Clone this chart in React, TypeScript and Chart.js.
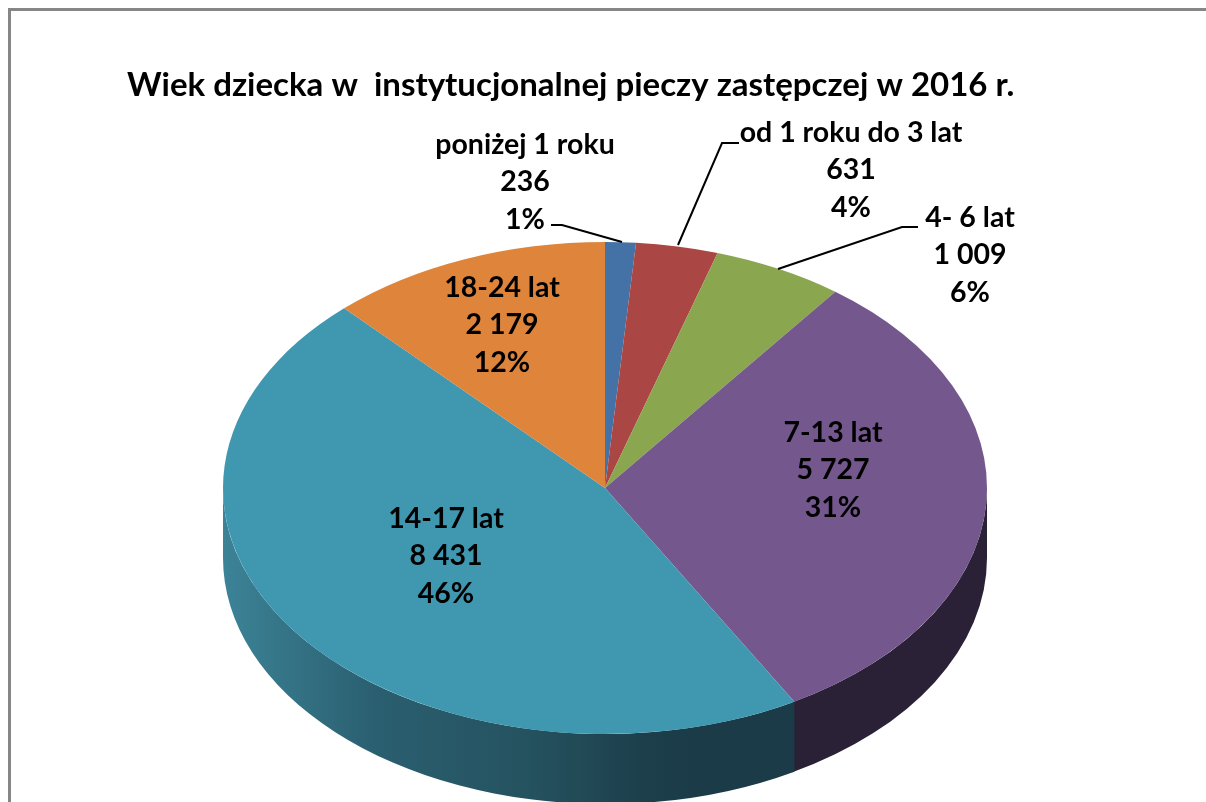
import React, { useEffect, useRef } from "react";
import { Chart, registerables } from "chart.js";

Chart.register(...registerables);

const categories = ["poniżej 1 roku", "od 1 roku do 3 lat", "4- 6 lat", "7-13 lat", "14-17 lat", "18-24 lat"];
const values = [236, 631, 1009, 5727, 8431, 2179];
const valueLabels = ["236", "631", "1 009", "5 727", "8 431", "2 179"];
const percentLabels = ["1%", "4%", "6%", "31%", "46%", "12%"];
const sliceColors = ["#4472a6", "#aa4644", "#8aa64f", "#74588d", "#4098b0", "#de843b"];
const wallColors = ["#2c4563", "#662a29", "#53642f", "#2b2137", "#1a3b47", "#85501f"];
const titleText = "Wiek dziecka w  instytucjonalnej pieczy zastępczej w 2016 r.";
const labelFont = "bold 28.5px Lato";
const SQUASH = 246 / 382;
const DEPTH = 70;
const labelCentres = [
  [525, 145],
  [851, 133],
  [970, 218],
  [833, 433],
  [446, 519],
  [502, 288],
];
const leaders = [
  [[551, 225], [562, 225], [622, 242]],
  [[739, 143], [722, 143], [678, 245]],
  [[918, 227], [902, 227], [778, 269]],
];

const pie3d = {
  id: "pie3d",
  beforeDatasetsDraw(chart: any) {
    const ctx = chart.ctx;
    const arcs = chart.getDatasetMeta(0).data;
    const cx = arcs[0].x;
    const cy = arcs[0].y;
    const r = arcs[0].outerRadius;
    ctx.save();
    arcs.forEach((arc: any, i: number) => {
      const a0 = Math.max(arc.startAngle, 0);
      const a1 = Math.min(arc.endAngle + 0.006, Math.PI);
      if (a1 <= a0) return;
      const p = new Path2D();
      p.ellipse(cx, cy, r, r * SQUASH, 0, a0, a1);
      p.ellipse(cx, cy + DEPTH, r, r * SQUASH, 0, a1, a0, true);
      p.closePath();
      if (i === 4) {
        const g = ctx.createLinearGradient(cx - r, 0, cx + r, 0);
        g.addColorStop(0, "#3c8397");
        g.addColorStop(0.06, "#37788b");
        g.addColorStop(0.2, "#2a5f70");
        g.addColorStop(0.4, "#25525f");
        g.addColorStop(0.55, "#1d3f4c");
        g.addColorStop(0.62, "#1a3b47");
        g.addColorStop(1, "#1a3b47");
        ctx.fillStyle = g;
      } else {
        ctx.fillStyle = wallColors[i];
      }
      ctx.fill(p);
    });
    ctx.restore();
    ctx.save();
    ctx.translate(cx, cy);
    ctx.scale(1, SQUASH);
    ctx.translate(-cx, -cy);
  },
  afterDatasetsDraw(chart: any) {
    const ctx = chart.ctx;
    ctx.restore();
    ctx.save();
    ctx.strokeStyle = "#000000";
    ctx.lineWidth = 2;
    leaders.forEach((pts) => {
      ctx.beginPath();
      pts.forEach(([x, y], k) => (k ? ctx.lineTo(x, y) : ctx.moveTo(x, y)));
      ctx.stroke();
    });
    ctx.fillStyle = "#000000";
    ctx.font = labelFont;
    ctx.textAlign = "center";
    ctx.textBaseline = "middle";
    categories.forEach((c, i) => {
      const [x, y] = labelCentres[i];
      ctx.fillText(c, x, y);
      ctx.fillText(valueLabels[i], x, y + 37);
      ctx.fillText(percentLabels[i], x, y + 75);
    });
    ctx.restore();
  },
};

const frame = {
  id: "frame",
  beforeDraw(chart: any) {
    const ctx = chart.ctx;
    ctx.save();
    ctx.fillStyle = "#ffffff";
    ctx.fillRect(0, 0, chart.width, chart.height);
    ctx.strokeStyle = "#868686";
    ctx.lineWidth = 3;
    ctx.beginPath();
    ctx.moveTo(9.5, 802);
    ctx.lineTo(9.5, 9.5);
    ctx.lineTo(1206, 9.5);
    ctx.stroke();
    ctx.restore();
  },
};

export default function App() {
  const ref = useRef<HTMLCanvasElement>(null);
  useEffect(() => {
    document.body.style.margin = "0";
    const chart = new Chart(ref.current!, {
      type: "pie",
      data: {
        labels: categories,
        datasets: [
          {
            data: values,
            backgroundColor: sliceColors,
            borderWidth: 0,
            radius: 382,
          },
        ],
      },
      options: {
        animation: false,
        responsive: false,
        layout: { padding: { left: 127, right: 123, top: 66, bottom: 0 } },
        plugins: {
          legend: { display: false },
          tooltip: { enabled: false },
          title: {
            display: true,
            text: titleText,
            align: "start",
            color: "#000000",
            font: { family: "Lato", size: 33, weight: "bold", lineHeight: 1.2 },
            padding: { top: 0, bottom: 68.4 },
          },
        },
      },
      plugins: [frame, pie3d],
    } as any);
    return () => chart.destroy();
  }, []);
  return <canvas ref={ref} width={1206} height={802} style={{ display: "block" }} />;
}
